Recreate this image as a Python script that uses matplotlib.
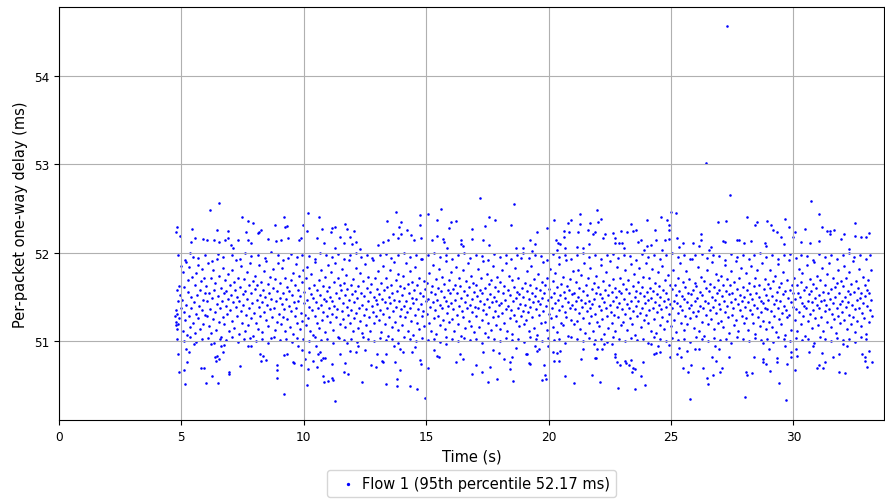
import matplotlib
matplotlib.use("Agg")
import matplotlib.pyplot as plt
import numpy as np

# per-packet (time s, one-way delay ms)
core_05_10 = [
    (4.74,51.28),(4.76,51.18),(4.77,51.35),(4.79,51.22),(4.80,51.58),(4.82,51.14),(4.84,51.31),(4.86,51.45),
    (4.88,51.19),(4.90,51.62),(4.92,51.26),(4.95,51.52),(4.97,51.38),(4.99,51.85),
    (5.02,51.47),(5.05,51.12),(5.07,51.78),(5.10,51.33),(5.12,51.61),(5.15,51.24),(5.17,51.90),(5.20,51.41),
    (5.22,51.07),(5.25,51.56),(5.28,51.69),(5.30,51.29),(5.33,51.84),(5.35,51.16),(5.38,51.50),(5.41,51.37),
    (5.43,51.73),(5.46,51.21),(5.48,51.95),(5.51,51.44),(5.54,51.63),(5.56,51.09),(5.59,51.31),(5.61,51.77),
    (5.64,51.52),(5.67,51.26),(5.69,51.86),(5.72,51.40),(5.75,51.58),(5.77,51.14),(5.80,51.68),(5.83,51.35),
    (5.85,51.82),(5.88,51.47),(5.90,51.19),(5.93,51.71),(5.96,51.55),(5.98,51.30),
    (6.01,51.62),(6.04,51.28),(6.06,51.45),(6.09,51.88),(6.12,51.17),(6.14,51.54),(6.17,51.36),(6.20,51.71),
    (6.22,51.09),(6.25,51.49),(6.28,51.25),(6.30,51.80),(6.33,51.58),(6.36,51.33),(6.38,51.66),(6.41,51.13),
    (6.44,51.42),(6.46,51.93),(6.49,51.51),(6.52,51.22),(6.54,51.74),(6.57,51.38),(6.60,51.60),(6.62,51.05),
    (6.65,51.46),(6.68,51.83),(6.70,51.27),(6.73,51.55),(6.76,51.19),(6.78,51.69),(6.81,51.40),(6.84,51.57),
    (6.86,51.31),(6.89,51.76),(6.92,51.48),(6.94,51.11),(6.97,51.64),
    (7.00,51.35),(7.03,51.52),(7.05,51.81),(7.08,51.23),(7.11,51.44),(7.13,51.67),(7.16,51.15),(7.19,51.58),
    (7.21,51.39),(7.24,51.92),(7.27,51.29),(7.29,51.50),(7.32,51.72),(7.35,51.08),(7.37,51.46),(7.40,51.61),
    (7.43,51.34),(7.45,51.85),(7.48,51.20),(7.51,51.53),(7.53,51.41),(7.56,51.70),(7.59,51.12),(7.61,51.57),
    (7.64,51.30),(7.67,51.78),(7.69,51.48),(7.72,51.18),(7.75,51.63),(7.77,51.37),(7.80,51.89),(7.83,51.26),
    (7.85,51.54),(7.88,51.43),(7.91,51.06),(7.93,51.68),(7.96,51.32),(7.99,51.59),
    (8.02,51.74),(8.04,51.21),(8.07,51.47),(8.10,51.63),(8.12,51.14),(8.15,51.39),(8.18,51.86),(8.20,51.52),
    (8.23,51.28),(8.26,51.67),(8.28,51.44),(8.31,51.10),(8.34,51.58),(8.36,51.79),(8.39,51.33),(8.42,51.50),
    (8.44,51.24),(8.47,51.91),(8.50,51.41),(8.52,51.65),(8.55,51.17),(8.58,51.55),(8.60,51.36),(8.63,51.73),
    (8.66,51.04),(8.68,51.48),(8.71,51.27),(8.74,51.82),(8.76,51.60),(8.79,51.38),(8.82,51.13),(8.84,51.70),
    (8.87,51.45),(8.90,51.22),(8.92,51.57),(8.95,51.88),(8.98,51.31),
    (9.01,51.49),(9.03,51.66),(9.06,51.19),(9.09,51.42),(9.11,51.83),(9.14,51.27),(9.17,51.55),(9.19,51.36),
    (9.22,51.72),(9.25,51.11),(9.27,51.48),(9.30,51.61),(9.33,51.25),(9.35,51.94),(9.38,51.40),(9.41,51.57),
    (9.43,51.16),(9.46,51.69),(9.49,51.34),(9.51,51.52),(9.54,51.08),(9.57,51.77),(9.59,51.44),(9.62,51.29),
    (9.65,51.63),(9.67,51.87),(9.70,51.38),(9.73,51.21),(9.75,51.58),(9.78,51.46),(9.81,51.74),(9.83,51.14),
    (9.86,51.51),(9.89,51.32),(9.91,51.67),(9.94,51.23),(9.97,51.80),(9.99,51.43),
]
core_10_15 = [
    (10.02,51.56),(10.05,51.30),(10.07,51.71),(10.10,51.18),(10.13,51.47),(10.15,51.84),(10.18,51.26),(10.21,51.60),
    (10.23,51.39),(10.26,51.12),(10.29,51.53),(10.31,51.76),(10.34,51.35),(10.37,51.49),(10.39,51.07),(10.42,51.64),
    (10.45,51.28),(10.47,51.90),(10.50,51.44),(10.53,51.20),(10.55,51.58),(10.58,51.37),(10.61,51.69),(10.63,51.15),
    (10.66,51.52),(10.69,51.41),(10.71,51.81),(10.74,51.24),(10.77,51.62),(10.79,51.33),(10.82,51.48),(10.85,51.10),
    (10.87,51.73),(10.90,51.45),(10.93,51.29),(10.95,51.57),(10.98,51.86),
    (11.01,51.38),(11.03,51.61),(11.06,51.22),(11.09,51.50),(11.11,51.78),(11.14,51.31),(11.17,51.46),(11.19,51.13),
    (11.22,51.67),(11.25,51.40),(11.27,51.89),(11.30,51.27),(11.33,51.55),(11.35,51.36),(11.38,51.72),(11.41,51.05),
    (11.43,51.49),(11.46,51.63),(11.49,51.19),(11.51,51.58),(11.54,51.34),(11.57,51.82),(11.59,51.43),(11.62,51.25),
    (11.65,51.66),(11.67,51.52),(11.70,51.16),(11.73,51.75),(11.75,51.39),(11.78,51.59),(11.81,51.30),(11.83,51.92),
    (11.86,51.47),(11.89,51.21),(11.91,51.64),(11.94,51.35),(11.97,51.53),(11.99,51.11),
    (12.02,51.70),(12.05,51.44),(12.07,51.26),(12.10,51.57),(12.13,51.83),(12.15,51.32),(12.18,51.49),(12.21,51.15),
    (12.23,51.62),(12.26,51.38),(12.29,51.77),(12.31,51.23),(12.34,51.54),(12.37,51.41),(12.39,51.09),(12.42,51.68),
    (12.45,51.30),(12.47,51.51),(12.50,51.87),(12.53,51.36),(12.55,51.18),(12.58,51.60),(12.61,51.45),(12.63,51.73),
    (12.66,51.27),(12.69,51.56),(12.71,51.12),(12.74,51.65),(12.77,51.40),(12.79,51.94),(12.82,51.33),(12.85,51.50),
    (12.87,51.21),(12.90,51.71),(12.93,51.47),(12.95,51.28),(12.98,51.59),
    (13.01,51.42),(13.04,51.79),(13.06,51.24),(13.09,51.53),(13.12,51.35),(13.14,51.66),(13.17,51.10),(13.20,51.48),
    (13.22,51.85),(13.25,51.31),(13.28,51.58),(13.30,51.19),(13.33,51.44),(13.36,51.72),(13.38,51.37),(13.41,51.61),
    (13.44,51.06),(13.46,51.50),(13.49,51.27),(13.52,51.81),(13.54,51.43),(13.57,51.64),(13.60,51.16),(13.62,51.55),
    (13.65,51.34),(13.68,51.90),(13.70,51.47),(13.73,51.22),(13.76,51.69),(13.78,51.39),(13.81,51.57),(13.84,51.13),
    (13.86,51.76),(13.89,51.45),(13.92,51.29),(13.94,51.62),(13.97,51.36),
    (14.00,51.52),(14.03,51.18),(14.05,51.74),(14.08,51.40),(14.11,51.60),(14.13,51.27),(14.16,51.88),(14.19,51.46),
    (14.21,51.33),(14.24,51.65),(14.27,51.11),(14.29,51.54),(14.32,51.38),(14.35,51.79),(14.37,51.23),(14.40,51.49),
    (14.43,51.67),(14.45,51.07),(14.48,51.43),(14.51,51.58),(14.53,51.30),(14.56,51.84),(14.59,51.48),(14.61,51.20),
    (14.64,51.63),(14.67,51.36),(14.69,51.71),(14.72,51.14),(14.75,51.55),(14.77,51.42),(14.80,51.93),(14.83,51.28),
    (14.85,51.51),(14.88,51.34),(14.91,51.68),(14.93,51.17),(14.96,51.59),(14.99,51.45),
]
core_15_20 = [
    (15.02,51.31),(15.04,51.66),(15.07,51.48),(15.10,51.21),(15.12,51.77),(15.15,51.39),(15.18,51.56),(15.20,51.12),
    (15.23,51.62),(15.26,51.44),(15.28,51.86),(15.31,51.26),(15.34,51.53),(15.36,51.35),(15.39,51.70),(15.42,51.08),
    (15.44,51.47),(15.47,51.60),(15.50,51.29),(15.52,51.82),(15.55,51.41),(15.58,51.18),(15.60,51.57),(15.63,51.37),
    (15.66,51.73),(15.68,51.24),(15.71,51.50),(15.74,51.65),(15.76,51.14),(15.79,51.45),(15.82,51.91),(15.84,51.32),
    (15.87,51.58),(15.90,51.40),(15.92,51.69),(15.95,51.22),(15.98,51.54),
    (16.01,51.43),(16.03,51.78),(16.06,51.25),(16.09,51.59),(16.11,51.36),(16.14,51.12),(16.17,51.64),(16.19,51.47),
    (16.22,51.84),(16.25,51.30),(16.27,51.55),(16.30,51.19),(16.33,51.71),(16.35,51.40),(16.38,51.62),(16.41,51.06),
    (16.43,51.49),(16.46,51.34),(16.49,51.80),(16.51,51.27),(16.54,51.57),(16.57,51.44),(16.59,51.15),(16.62,51.68),
    (16.65,51.38),(16.67,51.52),(16.70,51.89),(16.73,51.23),(16.75,51.61),(16.78,51.41),(16.81,51.74),(16.83,51.17),
    (16.86,51.48),(16.89,51.33),(16.91,51.66),(16.94,51.10),(16.97,51.56),(16.99,51.39),
    (17.02,51.63),(17.05,51.28),(17.07,51.51),(17.10,51.82),(17.13,51.37),(17.15,51.16),(17.18,51.58),(17.21,51.45),
    (17.23,51.72),(17.26,51.24),(17.29,51.54),(17.31,51.35),(17.34,51.91),(17.37,51.42),(17.39,51.09),(17.42,51.60),
    (17.45,51.31),(17.47,51.76),(17.50,51.48),(17.53,51.20),(17.55,51.65),(17.58,51.39),(17.61,51.53),(17.63,51.13),
    (17.66,51.69),(17.69,51.44),(17.71,51.27),(17.74,51.85),(17.77,51.50),(17.79,51.34),(17.82,51.61),(17.85,51.18),
    (17.87,51.46),(17.90,51.73),(17.93,51.29),(17.95,51.57),(17.98,51.41),
    (18.01,51.14),(18.03,51.67),(18.06,51.43),(18.09,51.80),(18.11,51.32),(18.14,51.55),(18.17,51.21),(18.19,51.62),
    (18.22,51.47),(18.25,51.88),(18.27,51.36),(18.30,51.11),(18.33,51.58),(18.35,51.40),(18.38,51.74),(18.41,51.26),
    (18.43,51.52),(18.46,51.35),(18.49,51.69),(18.51,51.08),(18.54,51.45),(18.57,51.61),(18.59,51.30),(18.62,51.83),
    (18.65,51.49),(18.67,51.23),(18.70,51.56),(18.73,51.38),(18.75,51.71),(18.78,51.17),(18.81,51.53),(18.83,51.42),
    (18.86,51.94),(18.89,51.28),(18.91,51.60),(18.94,51.34),(18.97,51.50),(18.99,51.19),
    (19.02,51.66),(19.05,51.41),(19.07,51.24),(19.10,51.57),(19.13,51.79),(19.15,51.33),(19.18,51.48),(19.21,51.12),
    (19.23,51.63),(19.26,51.39),(19.29,51.85),(19.31,51.27),(19.34,51.54),(19.37,51.44),(19.39,51.70),(19.42,51.15),
    (19.45,51.51),(19.47,51.36),(19.50,51.60),(19.53,51.07),(19.55,51.46),(19.58,51.76),(19.61,51.30),(19.63,51.58),
    (19.66,51.42),(19.69,51.20),(19.71,51.67),(19.74,51.49),(19.77,51.90),(19.79,51.34),(19.82,51.55),(19.85,51.22),
    (19.87,51.64),(19.90,51.40),(19.93,51.13),(19.95,51.72),(19.98,51.47),
]
core_20_25 = [
    (20.01,51.31),(20.03,51.59),(20.06,51.82),(20.09,51.26),(20.11,51.50),(20.14,51.38),(20.17,51.68),(20.19,51.16),
    (20.22,51.55),(20.25,51.43),(20.27,51.77),(20.30,51.29),(20.33,51.61),(20.35,51.10),(20.38,51.47),(20.41,51.35),
    (20.43,51.87),(20.46,51.52),(20.49,51.21),(20.51,51.65),(20.54,51.40),(20.57,51.73),(20.59,51.18),(20.62,51.56),
    (20.65,51.33),(20.67,51.49),(20.70,51.92),(20.73,51.27),(20.75,51.62),(20.78,51.44),(20.81,51.06),(20.83,51.58),
    (20.86,51.37),(20.89,51.70),(20.91,51.24),(20.94,51.53),(20.97,51.41),(20.99,51.79),
    (21.02,51.19),(21.05,51.54),(21.07,51.36),(21.10,51.67),(21.13,51.45),(21.15,51.23),(21.18,51.81),(21.21,51.50),
    (21.23,51.32),(21.26,51.60),(21.29,51.14),(21.31,51.47),(21.34,51.75),(21.37,51.39),(21.39,51.57),(21.42,51.26),
    (21.45,51.88),(21.47,51.43),(21.50,51.09),(21.53,51.64),(21.55,51.34),(21.58,51.52),(21.61,51.71),(21.63,51.20),
    (21.66,51.46),(21.69,51.38),(21.71,51.83),(21.74,51.28),(21.77,51.59),(21.79,51.42),(21.82,51.12),(21.85,51.66),
    (21.87,51.48),(21.90,51.31),(21.93,51.74),(21.95,51.55),(21.98,51.22),
    (22.01,51.61),(22.04,51.40),(22.06,51.17),(22.09,51.53),(22.12,51.86),(22.14,51.35),(22.17,51.49),(22.20,51.25),
    (22.22,51.68),(22.25,51.44),(22.28,51.08),(22.30,51.58),(22.33,51.37),(22.36,51.78),(22.38,51.29),(22.41,51.52),
    (22.44,51.15),(22.46,51.63),(22.49,51.41),(22.52,51.91),(22.54,51.33),(22.57,51.56),(22.60,51.21),(22.62,51.70),
    (22.65,51.46),(22.68,51.30),(22.70,51.60),(22.73,51.11),(22.76,51.50),(22.78,51.39),(22.81,51.84),(22.84,51.27),
    (22.86,51.57),(22.89,51.43),(22.92,51.72),(22.94,51.18),(22.97,51.54),
    (23.00,51.36),(23.03,51.65),(23.05,51.22),(23.08,51.48),(23.11,51.80),(23.13,51.31),(23.16,51.59),(23.19,51.42),
    (23.21,51.13),(23.24,51.69),(23.27,51.37),(23.29,51.54),(23.32,51.26),(23.35,51.87),(23.37,51.45),(23.40,51.19),
    (23.43,51.62),(23.45,51.34),(23.48,51.76),(23.51,51.50),(23.53,51.07),(23.56,51.57),(23.59,51.40),(23.61,51.28),
    (23.64,51.67),(23.67,51.46),(23.69,51.83),(23.72,51.32),(23.75,51.55),(23.77,51.16),(23.80,51.61),(23.83,51.38),
    (23.85,51.73),(23.88,51.24),(23.91,51.51),(23.93,51.43),(23.96,51.89),(23.99,51.30),
    (24.01,51.56),(24.04,51.20),(24.07,51.47),(24.09,51.71),(24.12,51.35),(24.15,51.60),(24.17,51.12),(24.20,51.49),
    (24.23,51.82),(24.25,51.38),(24.28,51.57),(24.31,51.25),(24.33,51.66),(24.36,51.44),(24.39,51.09),(24.41,51.53),
    (24.44,51.33),(24.47,51.78),(24.49,51.41),(24.52,51.62),(24.55,51.18),(24.57,51.50),(24.60,51.36),(24.63,51.85),
    (24.65,51.27),(24.68,51.58),(24.71,51.45),(24.73,51.14),(24.76,51.69),(24.79,51.39),(24.81,51.54),(24.84,51.23),
    (24.87,51.75),(24.89,51.48),(24.92,51.31),(24.95,51.63),(24.97,51.42),
]
core_25_30 = [
    (25.00,51.17),(25.03,51.59),(25.06,51.38),(25.08,51.81),(25.11,51.46),(25.14,51.24),(25.16,51.64),(25.19,51.52),
    (25.22,51.10),(25.24,51.43),(25.27,51.72),(25.30,51.32),(25.32,51.57),(25.35,51.40),(25.38,51.88),(25.40,51.21),
    (25.43,51.51),(25.46,51.35),(25.48,51.67),(25.51,51.13),(25.54,51.48),(25.56,51.61),(25.59,51.29),(25.62,51.79),
    (25.64,51.44),(25.67,51.19),(25.70,51.55),(25.72,51.37),(25.75,51.70),(25.78,51.26),(25.80,51.53),(25.83,51.41),
    (25.86,51.93),(25.88,51.33),(25.91,51.58),(25.94,51.15),(25.96,51.66),(25.99,51.45),
    (26.02,51.28),(26.04,51.62),(26.07,51.49),(26.10,51.84),(26.12,51.34),(26.15,51.11),(26.18,51.56),(26.20,51.40),
    (26.23,51.73),(26.26,51.22),(26.28,51.52),(26.31,51.37),(26.34,51.68),(26.36,51.06),(26.39,51.46),(26.42,51.60),
    (26.44,51.30),(26.47,51.80),(26.50,51.43),(26.52,51.19),(26.55,51.57),(26.58,51.35),(26.60,51.65),(26.63,51.25),
    (26.66,51.50),(26.68,51.90),(26.71,51.39),(26.74,51.14),(26.76,51.61),(26.79,51.47),(26.82,51.76),(26.84,51.32),
    (26.87,51.54),(26.90,51.20),(26.92,51.69),(26.95,51.42),(26.98,51.58),
    (27.01,51.36),(27.03,51.74),(27.06,51.23),(27.09,51.51),(27.11,51.63),(27.14,51.16),(27.17,51.45),(27.19,51.86),
    (27.22,51.33),(27.25,51.57),(27.27,51.40),(27.30,51.70),(27.33,51.27),(27.35,51.53),(27.38,51.09),(27.41,51.64),
    (27.43,51.44),(27.46,51.79),(27.49,51.30),(27.51,51.55),(27.54,51.38),(27.57,51.18),(27.59,51.67),(27.62,51.48),
    (27.65,51.91),(27.67,51.24),(27.70,51.59),(27.73,51.42),(27.75,51.12),(27.78,51.71),(27.81,51.35),(27.83,51.52),
    (27.86,51.83),(27.89,51.29),(27.91,51.46),(27.94,51.61),(27.97,51.21),(27.99,51.50),
    (28.02,51.39),(28.05,51.77),(28.07,51.26),(28.10,51.58),(28.13,51.44),(28.15,51.13),(28.18,51.66),(28.21,51.35),
    (28.23,51.53),(28.26,51.85),(28.29,51.31),(28.31,51.48),(28.34,51.20),(28.37,51.62),(28.39,51.41),(28.42,51.72),
    (28.45,51.08),(28.47,51.55),(28.50,51.37),(28.53,51.80),(28.55,51.27),(28.58,51.50),(28.61,51.64),(28.63,51.17),
    (28.66,51.46),(28.69,51.33),(28.71,51.89),(28.74,51.43),(28.77,51.23),(28.79,51.59),(28.82,51.38),(28.85,51.70),
    (28.87,51.14),(28.90,51.52),(28.93,51.36),(28.95,51.65),(28.98,51.47),
    (29.01,51.22),(29.03,51.60),(29.06,51.81),(29.09,51.34),(29.11,51.51),(29.14,51.16),(29.17,51.68),(29.19,51.42),
    (29.22,51.29),(29.25,51.74),(29.27,51.47),(29.30,51.10),(29.33,51.56),(29.35,51.38),(29.38,51.87),(29.41,51.25),
    (29.43,51.61),(29.46,51.45),(29.49,51.19),(29.51,51.66),(29.54,51.32),(29.57,51.53),(29.59,51.78),(29.62,51.40),
    (29.65,51.07),(29.67,51.57),(29.70,51.35),(29.73,51.69),(29.75,51.27),(29.78,51.49),(29.81,51.92),(29.83,51.30),
    (29.86,51.58),(29.89,51.44),(29.91,51.13),(29.94,51.63),(29.97,51.39),(29.99,51.54),
]
core_30_34 = [
    (30.02,51.71),(30.05,51.24),(30.07,51.48),(30.10,51.36),(30.13,51.64),(30.15,51.11),(30.18,51.55),(30.21,51.82),
    (30.23,51.33),(30.26,51.50),(30.29,51.19),(30.31,51.67),(30.34,51.43),(30.37,51.77),(30.39,51.28),(30.42,51.58),
    (30.45,51.40),(30.47,51.06),(30.50,51.61),(30.53,51.37),(30.55,51.86),(30.58,51.46),(30.61,51.23),(30.63,51.53),
    (30.66,51.70),(30.69,51.31),(30.71,51.57),(30.74,51.15),(30.77,51.44),(30.79,51.65),(30.82,51.35),(30.85,51.90),
    (30.87,51.49),(30.90,51.26),(30.93,51.60),(30.95,51.41),(30.98,51.74),
    (31.01,51.18),(31.04,51.52),(31.06,51.38),(31.09,51.69),(31.12,51.45),(31.14,51.27),(31.17,51.83),(31.20,51.56),
    (31.22,51.12),(31.25,51.47),(31.28,51.34),(31.30,51.63),(31.33,51.41),(31.36,51.76),(31.38,51.22),(31.41,51.54),
    (31.44,51.36),(31.46,51.88),(31.49,51.48),(31.52,51.16),(31.54,51.59),(31.57,51.31),(31.60,51.72),(31.62,51.43),
    (31.65,51.25),(31.68,51.61),(31.70,51.50),(31.73,51.09),(31.76,51.66),(31.78,51.37),(31.81,51.80),(31.84,51.29),
    (31.86,51.55),(31.89,51.42),(31.92,51.20),(31.94,51.68),(31.97,51.46),
    (32.00,51.33),(32.03,51.62),(32.05,51.85),(32.08,51.24),(32.11,51.50),(32.13,51.39),(32.16,51.71),(32.19,51.14),
    (32.21,51.57),(32.24,51.44),(32.27,51.78),(32.29,51.30),(32.32,51.53),(32.35,51.19),(32.37,51.65),(32.40,51.41),
    (32.43,51.91),(32.45,51.27),(32.48,51.56),(32.51,51.36),(32.53,51.10),(32.56,51.68),(32.59,51.47),(32.61,51.23),
    (32.64,51.60),(32.67,51.38),(32.69,51.82),(32.72,51.49),(32.75,51.17),(32.77,51.55),(32.80,51.32),(32.83,51.73),
    (32.85,51.43),(32.88,51.26),(32.91,51.63),(32.93,51.51),(32.96,51.08),(32.99,51.58),
    (33.02,51.40),(33.04,51.69),(33.07,51.22),(33.10,51.54),(33.12,51.35),(33.15,51.80),(33.18,51.47),(33.20,51.28),
]

# edges of the dense band, just inside the 51 and 52 grid lines
edge_high = [
    (4.85,51.97),(5.13,51.92),(5.37,52.00),(5.66,51.94),(5.95,51.98),(6.27,51.91),(6.48,51.99),(6.71,51.95),
    (7.07,51.97),(7.38,51.93),(7.58,52.00),(7.86,51.96),(8.13,51.98),(8.40,51.94),(8.65,52.01),(8.93,51.97),
    (9.16,51.92),(9.48,51.99),(9.71,51.95),(9.93,51.98),(10.20,51.96),(10.44,51.93),(10.68,52.00),(10.92,51.97),
    (11.16,51.95),(11.40,51.99),(11.64,51.93),(11.88,51.97),(12.12,52.00),(12.35,51.95),(12.60,51.98),(12.84,51.92),
    (13.10,51.97),(13.34,51.99),(13.58,51.94),(13.83,51.97),(14.09,52.00),(14.33,51.95),(14.57,51.98),(14.82,51.93),
    (15.06,51.97),(15.30,52.00),(15.56,51.95),(15.80,51.98),(16.05,51.93),(16.29,51.97),(16.55,52.00),(16.80,51.94),
    (17.03,51.98),(17.27,51.96),(17.52,51.92),(17.76,51.99),(18.00,51.95),(18.24,51.98),(18.48,51.93),(18.72,51.97),
    (18.96,52.00),(19.19,51.94),(19.44,51.98),(19.68,51.96),(19.94,51.92),(20.18,51.99),(20.42,51.95),(20.66,51.98),
    (20.90,51.93),(21.16,51.97),(21.40,52.00),(21.64,51.95),(21.88,51.98),(22.13,51.93),(22.37,51.97),(22.61,51.99),
    (22.85,51.94),(23.09,51.98),(23.33,51.96),(23.58,51.92),(23.82,51.99),(24.06,51.95),(24.30,51.98),(24.54,51.93),
    (24.78,51.97),(25.02,52.00),(25.28,51.95),(25.52,51.98),(25.76,51.93),(26.00,51.97),(26.26,51.99),(26.49,51.94),
    (26.73,51.98),(26.97,51.96),(27.21,51.92),(27.45,51.99),(27.69,51.95),(27.93,51.98),(28.17,51.93),(28.41,51.97),
    (28.65,52.00),(28.89,51.95),(29.13,51.98),(29.37,51.93),(29.61,51.97),(29.85,51.99),(30.09,51.94),(30.33,51.98),
    (30.57,51.96),(30.81,51.92),(31.05,51.99),(31.29,51.95),(31.53,51.98),(31.77,51.93),(32.01,51.97),(32.25,52.00),
    (32.49,51.95),(32.73,51.98),(32.97,51.93),(33.13,51.97),
]
edge_low = [
    (4.83,51.03),(5.09,51.00),(5.34,51.05),(5.58,50.99),(5.84,51.02),(6.08,51.04),(6.32,50.98),(6.57,51.03),
    (6.82,51.01),(7.06,51.05),(7.30,50.99),(7.55,51.02),(7.79,51.04),(8.03,51.00),(8.28,51.03),(8.52,50.98),
    (8.77,51.05),(9.01,51.01),(9.26,51.03),(9.50,50.99),(9.74,51.04),(9.98,51.02),(10.22,51.00),(10.46,51.05),
    (10.70,51.01),(10.94,51.03),(11.18,50.98),(11.42,51.04),(11.66,51.01),(11.91,51.03),(12.16,50.99),(12.40,51.05),
    (12.64,51.02),(12.88,51.00),(13.13,51.04),(13.37,51.01),(13.61,51.03),(13.85,50.98),(14.10,51.05),(14.35,51.02),
    (14.58,51.00),(14.84,51.04),(15.08,51.01),(15.32,51.03),(15.57,50.99),(15.81,51.05),(16.07,51.02),(16.31,51.00),
    (16.56,51.04),(16.79,51.01),(17.04,51.03),(17.28,50.98),(17.53,51.05),(17.78,51.02),(18.02,51.00),(18.26,51.04),
    (18.50,51.01),(18.74,51.03),(18.98,50.99),(19.24,51.05),(19.48,51.02),(19.73,51.00),(19.96,51.04),(20.20,51.01),
    (20.44,51.03),(20.68,50.98),(20.93,51.05),(21.17,51.02),(21.41,51.00),(21.65,51.04),(21.89,51.01),(22.14,51.03),
    (22.39,50.99),(22.63,51.05),(22.87,51.02),(23.12,51.00),(23.36,51.04),(23.60,51.01),(23.84,51.03),(24.08,50.98),
    (24.32,51.05),(24.56,51.02),(24.80,51.00),(25.04,51.04),(25.29,51.01),(25.53,51.03),(25.77,50.99),(26.01,51.05),
    (26.27,51.02),(26.51,51.00),(26.75,51.04),(26.99,51.01),(27.23,51.03),(27.47,50.98),(27.71,51.05),(27.95,51.02),
    (28.19,51.00),(28.43,51.04),(28.67,51.01),(28.91,51.03),(29.15,50.99),(29.39,51.05),(29.63,51.02),(29.87,51.00),
    (30.12,51.04),(30.35,51.01),(30.59,51.03),(30.83,50.98),(31.07,51.05),(31.31,51.02),(31.55,51.00),(31.79,51.04),
    (32.03,51.01),(32.27,51.03),(32.51,50.99),(32.75,51.05),(32.98,51.02),
]

high_05_19 = [
    (4.81,52.29),(4.78,52.24),(4.94,52.19),(6.17,52.49),(6.55,52.56),(5.42,52.27),(5.56,52.17),(5.41,52.12),
    (5.90,52.16),(6.06,52.15),(6.35,52.15),(6.44,52.26),(6.55,52.12),(6.78,52.14),(6.92,52.25),(6.92,52.17),
    (7.02,52.09),(7.12,52.05),(7.33,52.15),(7.46,52.40),(7.63,52.23),(7.72,52.36),(7.74,52.15),(7.83,52.11),
    (7.94,52.34),(8.11,52.22),(8.19,52.24),(8.24,52.26),(8.54,52.16),(8.84,52.31),(8.87,52.13),(9.05,52.15),
    (9.20,52.41),(9.24,52.29),(9.33,52.30),(9.37,52.17),(9.82,52.14),(9.88,52.17),(9.96,52.31),(10.12,52.25),
    (10.18,52.45),(10.53,52.17),(10.63,52.41),(10.76,52.27),(10.84,52.11),(11.12,52.23),(11.17,52.28),(11.28,52.29),
    (11.28,52.06),(11.46,52.18),(11.65,52.11),(11.69,52.33),(11.76,52.27),(11.89,52.18),(11.96,52.10),(12.03,52.25),
    (12.14,52.12),(12.30,52.04),(13.05,52.09),(13.23,52.12),(13.39,52.36),(13.42,52.14),(13.66,52.21),(13.75,52.46),
    (13.84,52.17),(13.88,52.29),(13.98,52.35),(13.99,52.21),(14.21,52.26),(14.37,52.20),(14.51,52.15),(14.73,52.43),
    (14.75,52.32),(14.78,52.17),(15.07,52.44),(15.23,52.15),(15.43,52.19),(15.46,52.37),(15.60,52.50),(15.68,52.16),
    (15.71,52.12),(15.86,52.05),(15.94,52.28),(16.02,52.35),(16.22,52.36),(16.43,52.15),(16.42,52.10),(16.52,52.08),
    (16.85,52.27),(16.87,52.16),(17.18,52.62),(17.34,52.15),(17.41,52.30),(17.55,52.40),(17.57,52.09),(17.82,52.37),
    (18.60,52.55),(18.46,52.32),(18.68,52.06),(18.95,52.06),(19.22,52.15),
]
high_19_33 = [
    (19.32,52.02),(19.43,52.10),(19.53,52.24),(19.92,52.28),(20.22,52.37),(20.30,52.14),(20.34,52.03),(20.38,52.11),
    (20.46,52.10),(20.62,52.25),(20.62,52.18),(20.65,52.06),(20.79,52.34),(20.84,52.23),(20.92,52.37),(21.14,52.07),
    (21.22,52.23),(21.28,52.44),(21.29,52.33),(21.39,52.05),(21.61,52.26),(21.66,52.10),(21.71,52.34),(21.80,52.21),
    (21.90,52.24),(21.97,52.49),(22.01,52.35),(22.15,52.38),(22.23,52.17),(22.31,52.21),(22.61,52.22),(22.70,52.11),
    (22.72,52.17),(22.86,52.11),(22.94,52.25),(22.99,52.11),(23.08,52.06),(23.19,52.23),(23.35,52.33),(23.43,52.25),
    (23.59,52.26),(23.65,52.12),(23.79,52.14),(23.89,52.03),(24.00,52.37),(24.03,52.08),(24.19,52.09),(24.33,52.26),
    (24.38,52.14),(24.60,52.41),(24.63,52.03),(24.74,52.14),(24.85,52.37),(24.90,52.32),(24.90,52.26),(24.93,52.16),
    (24.98,52.46),(25.20,52.45),(25.24,52.17),(25.34,52.07),(25.50,52.11),(25.88,52.11),(26.13,52.08),(26.24,52.21),
    (26.24,52.14),(26.54,52.03),(26.62,52.07),(26.92,52.35),(27.14,52.13),(27.19,52.12),(27.26,52.36),(27.40,52.66),
    (27.68,52.15),(27.76,52.14),(27.97,52.11),(28.09,52.40),(28.28,52.13),(28.44,52.32),(28.53,52.35),(28.83,52.11),
    (28.88,52.08),(28.91,52.36),(29.07,52.32),(29.15,52.26),(29.32,52.23),(29.51,52.18),(29.63,52.10),(29.67,52.38),
    (29.81,52.29),(29.97,52.18),(30.08,52.23),(30.30,52.12),(30.49,52.27),(30.67,52.11),(30.73,52.59),(31.03,52.44),
    (31.06,52.13),(31.17,52.29),(31.36,52.25),(31.50,52.25),(31.50,52.21),(31.66,52.26),(31.93,52.16),(32.05,52.21),
    (32.26,52.04),(32.53,52.34),(32.53,52.19),(32.75,52.18),(32.97,52.18),(33.10,52.22),
]
spikes = [(26.41,53.02),(27.29,54.57)]

low_05_19 = [
    (4.88,50.86),(4.92,50.65),(5.11,50.67),(5.16,50.52),(5.19,50.91),(5.24,50.76),(5.30,50.88),(5.52,50.97),
    (5.79,50.70),(5.93,50.70),(6.01,50.53),(6.20,50.97),(6.23,50.60),(6.39,50.82),(6.42,50.77),(6.44,50.83),
    (6.50,50.53),(6.54,50.80),(6.61,50.94),(6.69,50.88),(6.74,50.96),(6.93,50.65),(6.96,50.63),(7.40,50.72),
    (7.72,50.94),(7.83,50.94),(8.21,50.85),(8.24,50.77),(8.32,50.83),(8.46,50.79),(8.90,50.73),(8.90,50.67),
    (8.92,50.58),(9.20,50.40),(9.20,50.84),(9.30,50.85),(9.55,50.76),(9.58,50.75),(9.78,50.94),(9.90,50.73),
    (9.94,50.90),(10.05,50.80),(10.16,50.68),(10.15,50.50),(10.23,50.88),(10.37,50.78),(10.48,50.94),(10.53,50.71),
    (10.60,50.86),(10.67,50.88),(10.69,50.79),(10.78,50.81),(10.80,50.60),(10.83,50.54),(10.88,50.81),(10.97,50.55),
    (11.14,50.74),(11.17,50.58),(11.21,50.56),(11.28,50.32),(11.46,50.85),(11.65,50.65),(11.69,50.75),(11.76,50.98),
    (11.82,50.63),(11.89,50.89),(12.14,50.88),(12.23,50.95),(12.38,50.54),(12.48,50.90),(12.74,50.73),(12.93,50.71),
    (13.01,50.86),(13.20,50.78),(13.23,50.76),(13.34,50.52),(13.36,50.85),(13.69,50.94),(13.74,50.76),(13.80,50.57),
    (13.81,50.49),(13.91,50.67),(13.94,50.91),(14.07,50.88),(14.34,50.49),(14.43,50.88),(14.56,50.93),(14.64,50.46),
    (14.75,50.79),(14.78,50.74),(14.97,50.36),(15.09,50.70),(15.33,50.90),(15.43,50.83),(15.54,50.82),(15.82,50.97),
    (16.23,50.76),(16.36,50.86),(16.50,50.80),(16.88,50.63),(17.02,50.73),(17.26,50.65),(17.34,50.88),(17.51,50.54),
    (17.59,50.71),(17.72,50.90),(17.89,50.57),(17.97,50.87),(18.16,50.80),(18.41,50.68),(18.41,50.76),(18.51,50.82),
    (18.54,50.55),(18.68,50.92),(19.09,50.86),(19.20,50.75),
]
low_19_33 = [
    (19.10,50.86),(19.25,50.74),(19.45,50.95),(19.53,50.89),(19.62,50.91),(19.83,50.73),(19.86,50.62),(19.89,50.57),
    (19.72,50.56),(19.97,50.95),(20.19,50.88),(20.22,50.78),(20.35,50.87),(20.43,50.78),(20.46,50.89),(20.65,50.61),
    (21.03,50.53),(21.33,50.80),(21.39,50.91),(21.77,50.62),(21.85,50.97),(21.88,50.81),(21.93,50.81),(21.99,50.91),
    (22.10,50.54),(22.20,50.91),(22.26,50.97),(22.59,50.97),(22.72,50.86),(22.72,50.82),(22.83,50.47),(22.78,50.76),
    (22.91,50.73),(23.10,50.77),(23.16,50.75),(23.29,50.73),(23.38,50.79),(23.40,50.65),(23.43,50.70),(23.51,50.46),
    (23.51,50.68),(23.79,50.61),(23.87,50.76),(23.92,50.50),(24.17,50.97),(24.30,50.85),(24.38,50.87),(24.47,50.94),
    (24.55,50.88),(24.90,50.96),(24.96,50.82),(25.26,50.85),(25.31,50.92),(25.42,50.82),(25.47,50.70),(25.67,50.89),
    (25.69,50.65),(25.77,50.35),(25.83,50.73),(25.99,50.91),(26.16,50.91),(26.32,50.70),(26.46,50.58),(26.51,50.51),
    (26.67,50.82),(26.70,50.62),(26.78,50.94),(26.85,50.77),(26.97,50.91),(27.00,50.65),(27.08,50.70),(27.35,50.82),
    (28.04,50.37),(28.06,50.65),(28.12,50.62),(28.31,50.64),(28.39,50.82),(28.74,50.98),(28.74,50.80),(28.77,50.76),
    (28.88,50.74),(29.02,50.91),(29.04,50.66),(29.34,50.81),(29.34,50.76),(29.43,50.53),(29.64,50.94),(29.70,50.33),
    (29.75,50.74),(29.89,50.88),(29.89,50.82),(30.08,50.67),(30.11,50.91),(30.16,50.83),(30.65,50.88),(30.82,50.95),
    (30.98,50.70),(31.03,50.73),(31.17,50.87),(31.20,50.70),(31.31,50.76),(31.60,50.82),(31.85,50.85),(31.88,50.65),
    (32.01,50.97),(32.10,50.64),(32.18,50.94),(32.80,50.85),(32.91,50.82),(32.94,50.78),(33.02,50.71),(33.08,50.89),
    (33.19,50.76),
]

flow_label = "Flow 1 (95th percentile 52.17 ms)"
duration = 33.7

points = np.array(core_05_10 + core_10_15 + core_15_20 + core_20_25 + core_25_30 + core_30_34
                  + edge_high + edge_low + high_05_19 + high_19_33 + spikes
                  + low_05_19 + low_19_33)

fig = plt.figure(figsize=(8.85, 5.02), dpi=100)
ax = fig.add_axes([59 / 885, 81 / 502, 825 / 885, 413 / 502])
ax.scatter(points[:, 0], points[:, 1], s=3.4, color='blue', marker='o',
           linewidths=0, label=flow_label)
ax.set_xlim(0, duration)
ax.set_xlabel('Time (s)', fontsize=10.5)
ax.set_ylabel('Per-packet one-way delay (ms)', fontsize=10.5)
ax.tick_params(labelsize=8.7)
ax.grid()
ax.legend(scatterpoints=1, bbox_to_anchor=(0.5, -0.104), loc='upper center',
          fontsize=10.5, markerscale=1.3, handletextpad=0)

fig.savefig('out.png', dpi=100)
